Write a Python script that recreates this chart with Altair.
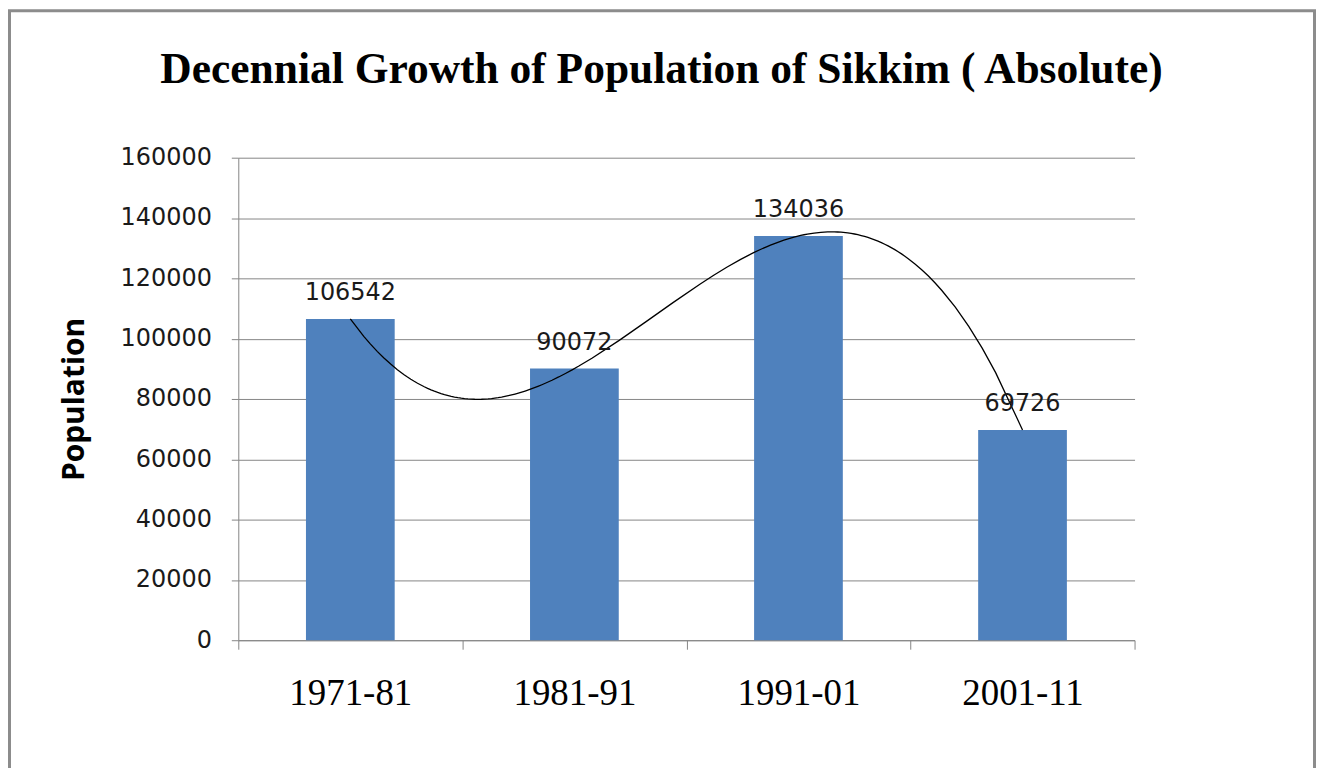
import altair as alt
import pandas as pd

# ---- data ----
periods = ["1971-81", "1981-91", "1991-01", "2001-11"]
period_index = [0, 1, 2, 3]
population = [106542, 90072, 134036, 69726]
y_tick_values = [0, 20000, 40000, 60000, 80000, 100000, 120000, 140000, 160000]
x_boundaries = [-0.5, 0.5, 1.5, 2.5, 3.5]

df = pd.DataFrame({"idx": period_index, "period": periods, "value": population})
frame_df = pd.DataFrame({"k": [0]})

GRAY = "#868686"
BAR = "#4F81BD"

x_scale = alt.Scale(domain=[-0.5, 3.5], nice=False, zero=False, padding=0)
y_scale = alt.Scale(domain=[0, 160000], nice=False, zero=True)

label_expr = "[" + ",".join("'%s'" % p for p in periods) + "][datum.value]"

y_axis = alt.Axis(
    values=y_tick_values, format="d", tickSize=7, labelPadding=20,
    tickColor=GRAY, domainColor=GRAY, gridColor=GRAY, grid=True,
    labelFont="DejaVu Sans", labelFontSize=24, labelColor="#1a1a1a",
    title="Population", titleFont="Open Sans", titleFontWeight="bold",
    titleFontSize=30, titleColor="#000000", titleAngle=-90,
    titleX=-164, titleY=242, titleAlign="center", titleBaseline="middle",
    orient="left",
)

x_tick_axis = alt.Axis(
    values=x_boundaries, labels=False, ticks=True, tickSize=9, grid=False,
    domain=True, domainColor=GRAY, tickColor=GRAY, title=None, orient="bottom",
)

x_label_axis = alt.Axis(
    values=period_index, labelExpr=label_expr, ticks=False, tickSize=0,
    domain=False, grid=False, title=None, orient="bottom",
    labelFont="Liberation Serif", labelFontSize=37, labelColor="#000000",
    labelBaseline="alphabetic", labelPadding=64,
)

bars = alt.Chart(df).mark_bar(size=89, color=BAR).encode(
    x=alt.X("idx:Q", scale=x_scale, axis=x_tick_axis),
    y=alt.Y("value:Q", scale=y_scale, axis=y_axis),
)

labels = alt.Chart(df).mark_text(
    dy=-19, baseline="alphabetic", align="center",
    font="DejaVu Sans", fontSize=24, color="#1a1a1a",
).encode(
    x=alt.X("idx:Q", scale=x_scale, axis=x_label_axis),
    y=alt.Y("value:Q", scale=y_scale, axis=None),
    text=alt.Text("value:Q", format="d"),
)

trend = alt.Chart(df).transform_regression(
    "idx", "value", method="poly", order=3, extent=[0, 3]
).mark_line(color="#000000", strokeWidth=1.3).encode(
    x=alt.X("idx:Q", scale=x_scale, axis=None),
    y=alt.Y("value:Q", scale=y_scale, axis=None),
)

frame = alt.Chart(frame_df).mark_rect(
    filled=False, stroke="#8c8c8c", strokeWidth=3
).encode(
    x=alt.value(-229.5), x2=alt.value(1079.5),
    y=alt.value(-147.5), y2=alt.value(700),
)

chart = alt.layer(frame, bars, trend, labels).resolve_axis(
    x="independent", y="independent"
).properties(
    width=899, height=484,
    autosize=alt.AutoSizeParams(type="none"),
    padding={"left": 231, "top": 149, "right": 183, "bottom": 127},
    title=alt.TitleParams(
        "Decennial Growth of Population of Sikkim ( Absolute)",
        font="Liberation Serif", fontSize=43.6, fontWeight="bold",
        color="#000000", anchor="middle", frame="group",
        baseline="alphabetic", offset=0, dy=118, dx=-25,
    ),
).configure_view(stroke=None)

chart.save("out.html", embed_options={"renderer": "svg", "actions": False})
